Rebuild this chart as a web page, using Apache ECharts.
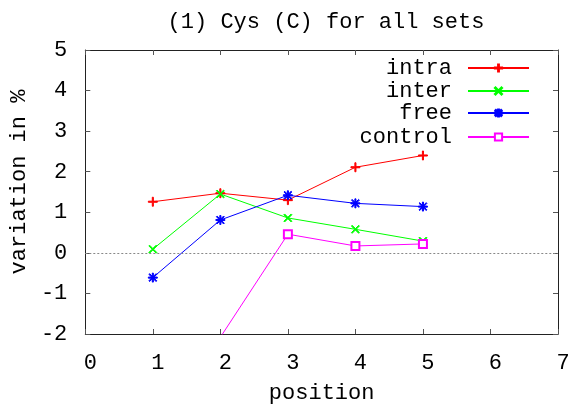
<!DOCTYPE html>
<html>
<head>
<meta charset="utf-8">
<script src="https://cdn.jsdelivr.net/npm/echarts@6/dist/echarts.min.js"></script>
<style>
  html, body { margin: 0; padding: 0; background: #fff; }
  #chart { width: 574px; height: 411px; }
</style>
</head>
<body>
<div id="chart"></div>
<script>
// values
const positions = [1, 2, 3, 4, 5];
const intra = [1.26, 1.47, 1.30, 2.11, 2.40];
const inter = [0.09, 1.45, 0.86, 0.58, 0.29];
const free = [-0.61, 0.81, 1.42, 1.22, 1.14];
const control = [null, -2.08, 0.46, 0.17, 0.22];
const xTicks = [0, 1, 2, 3, 4, 5, 6, 7];
const yTicks = [-2, -1, 0, 1, 2, 3, 4, 5];

const FONT = 'Liberation Mono';
const plus = 'path://M4.4,0H5.6V4.4H10V5.6H5.6V10H4.4V5.6H0V4.4H4.4Z';
const cross = 'path://M0,0.9L0.9,0L5,4.1L9.1,0L10,0.9L5.9,5L10,9.1L9.1,10L5,5.9L0.9,10L0,9.1L4.1,5Z';
const star = 'path://M4.4,0H5.6V4.4H10V5.6H5.6V10H4.4V5.6H0V4.4H4.4Z' +
  'M0.6,1.4L1.4,0.6L5,4.2L8.6,0.6L9.4,1.4L5.8,5L9.4,8.6L8.6,9.4L5,5.8L1.4,9.4L0.6,8.6L4.2,5Z';

function pairs(ys) {
  const out = [];
  ys.forEach(function (y, i) {
    if (y !== null) out.push([positions[i], y]);
  });
  return out;
}

const chart = echarts.init(document.getElementById('chart'));

function mkSeries(name, ys, color, symbol, size) {
  return {
    name: name,
    type: 'line',
    data: pairs(ys),
    clip: true,
    symbol: symbol,
    symbolSize: size,
    showAllSymbol: true,
    lineStyle: { color: color, width: 1 },
    itemStyle: { color: color, borderColor: color, borderWidth: 1 },
    emphasis: { disabled: true },
    animation: false
  };
}

const names = ['intra', 'inter', 'free', 'control'];
const legendTops = [57, 80, 102, 126];

const series = [
  mkSeries('intra', intra, '#ff0000', plus, 9),
  mkSeries('inter', inter, '#00ff00', cross, 8),
  mkSeries('free', free, '#0000ff', star, 9),
  mkSeries('control', control, '#ff00ff', 'emptyRect', 8)
];
series[3].markLine = {
  silent: true,
  symbol: 'none',
  label: { show: false },
  lineStyle: { color: '#888', type: [2, 2], width: 1 },
  data: [{ yAxis: 0 }]
};

const axisLine = { show: true, onZero: false, lineStyle: { color: '#222', width: 1 } };
const axisTick = { show: true, inside: true, length: 5, lineStyle: { color: '#555' } };

chart.setOption({
  animation: false,
  backgroundColor: '#fff',
  title: {
    text: '(1) Cys (C) for all sets',
    left: 321,
    top: 6,
    textAlign: 'center',
    textStyle: { fontFamily: FONT, fontSize: 22, fontWeight: 'normal', color: '#000' }
  },
  legend: names.map(function (n, i) {
    return {
      data: [n],
      orient: 'vertical',
      align: 'right',
      right: 44,
      top: legendTops[i],
      padding: 0,
      itemWidth: 61,
      itemHeight: 9,
      itemGap: 0,
      selectedMode: false,
      textStyle: { fontFamily: FONT, fontSize: 22, color: '#000', padding: [0, 11, 0, 0] }
    };
  }),
  grid: { left: 83, right: 16, top: 50, bottom: 77, containLabel: false },
  xAxis: [{
    type: 'value',
    min: xTicks[0],
    max: xTicks[xTicks.length - 1],
    interval: 1,
    name: 'position',
    nameLocation: 'middle',
    nameGap: 48,
    nameTextStyle: { fontFamily: FONT, fontSize: 22, color: '#000' },
    axisLine: axisLine,
    axisTick: axisTick,
    splitLine: { show: false },
    axisLabel: { fontFamily: FONT, fontSize: 22, color: '#000', margin: 18, padding: [0, 0, 0, 10] }
  }, {
    type: 'value',
    position: 'top',
    min: xTicks[0],
    max: xTicks[xTicks.length - 1],
    interval: 1,
    axisLine: axisLine,
    axisTick: axisTick,
    splitLine: { show: false },
    axisLabel: { show: false }
  }],
  yAxis: [{
    type: 'value',
    min: yTicks[0],
    max: yTicks[yTicks.length - 1],
    interval: 1,
    name: 'variation in %',
    nameLocation: 'middle',
    nameGap: 54,
    nameTextStyle: { fontFamily: FONT, fontSize: 22, color: '#000', padding: [0, 0, 0, 20] },
    axisLine: axisLine,
    axisTick: axisTick,
    splitLine: { show: false },
    axisLabel: { fontFamily: FONT, fontSize: 22, color: '#000', margin: 18 }
  }, {
    type: 'value',
    position: 'right',
    min: yTicks[0],
    max: yTicks[yTicks.length - 1],
    interval: 1,
    axisLine: axisLine,
    axisTick: axisTick,
    splitLine: { show: false },
    axisLabel: { show: false }
  }],
  series: series
});
</script>
</body>
</html>
